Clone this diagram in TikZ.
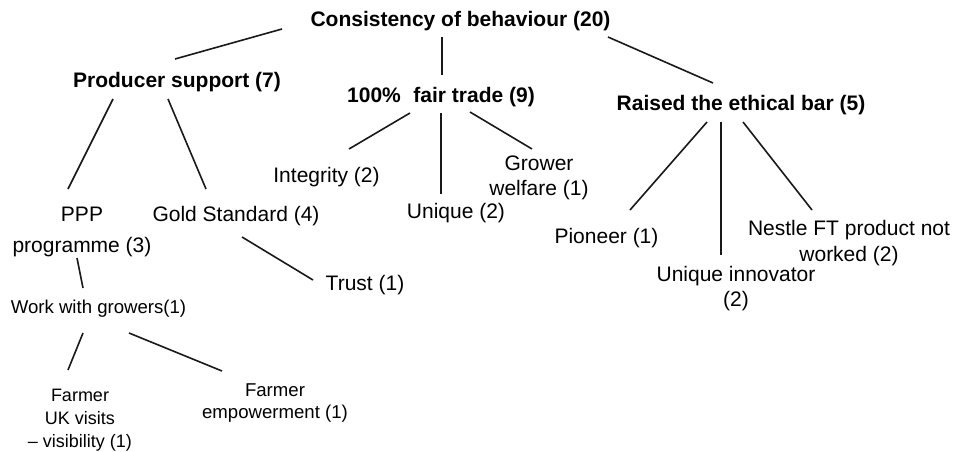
\documentclass[tikz,border=0pt]{standalone}
\usepackage{fontspec}
\setmainfont{Liberation Sans}
\begin{document}
\begin{tikzpicture}[x=1pt,y=-1pt,
  lab/.style={anchor=base, inner sep=0pt, text=black, font=\fontsize{21}{26}\selectfont},
  bl/.style={lab, font=\bfseries\fontsize{21}{26}\selectfont},
  conn/.style={draw=black!90, line width=1.6pt}]
\useasboundingbox[fill=white] (0,0) rectangle (955,452);
% nodes
\node[bl] (cons) at (460.5,27) {Consistency of behaviour (20)};
\node[bl] (prod) at (177,87) {Producer support (7)};
\node[bl] (fair) at (441,102) {100\%\hspace{0.6em}fair trade (9)};
\node[bl] (raised) at (741,110) {Raised the ethical bar (5)};
\node[lab] (integ) at (326.5,182) {Integrity (2)};
\node[lab, font=\fontsize{21}{31}\selectfont] (ppp) at (82,221) {\begin{tabular}[t]{@{}c@{}}PPP\\programme (3)\end{tabular}};
\node[lab] (gold) at (236,221) {Gold Standard (4)};
\node[lab] (uniq) at (456,218) {Unique (2)};
\node[lab, font=\fontsize{21}{25}\selectfont] (grow) at (539,170) {\begin{tabular}[t]{@{}c@{}}Grower\\welfare (1)\end{tabular}};
\node[lab] (pion) at (606.5,243) {Pioneer (1)};
\node[lab, font=\fontsize{21}{25.5}\selectfont] (innov) at (736,281) {\begin{tabular}[t]{@{}c@{}}Unique innovator\\(2)\end{tabular}};
\node[lab, font=\fontsize{21}{26.5}\selectfont] (nestle) at (849,235) {\begin{tabular}[t]{@{}c@{}}Nestle FT product not\\worked (2)\end{tabular}};
\node[lab] (trust) at (365,290) {Trust (1)};
\node[lab, font=\fontsize{18.6}{22}\selectfont] (work) at (98.5,313) {Work with growers(1)};
\node[lab, font=\fontsize{18}{23}\selectfont] (fuk) at (80,401) {\begin{tabular}[t]{@{}c@{}}Farmer\\UK visits\\– visibility (1)\end{tabular}};
\node[lab, font=\fontsize{18.6}{22}\selectfont] (femp) at (275,396) {\begin{tabular}[t]{@{}c@{}}Farmer\\empowerment (1)\end{tabular}};
% connectors
\draw[conn] ([shift={(-178.5,2)}]cons.base) -- ([shift={(-2,-28)}]prod.base);
\draw[conn] ([shift={(-18.5,10)}]cons.base) -- ([shift={(1,-27)}]fair.base);
\draw[conn] ([shift={(147.5,10)}]cons.base) -- ([shift={(-28,-27)}]raised.base);
\draw[conn] ([shift={(-64,12)}]prod.base) -- ([shift={(-14,-32)}]ppp.base);
\draw[conn] ([shift={(-9,12)}]prod.base) -- ([shift={(-30,-32)}]gold.base);
\draw[conn] ([shift={(-31,11)}]fair.base) -- ([shift={(22.5,-33)}]integ.base);
\draw[conn] ([shift={(0,11)}]fair.base) -- ([shift={(-15,-24)}]uniq.base);
\draw[conn] ([shift={(29,10)}]fair.base) -- ([shift={(-7,-21)}]grow.base);
\draw[conn] ([shift={(-34,12)}]raised.base) -- ([shift={(23.5,-33)}]pion.base);
\draw[conn] ([shift={(-20,12)}]raised.base) -- ([shift={(-15,-26)}]innov.base);
\draw[conn] ([shift={(2,12)}]raised.base) -- ([shift={(-37,-25)}]nestle.base);
\draw[conn] ([shift={(6,16)}]gold.base) -- ([shift={(-52,-10)}]trust.base);
\draw[conn] ([shift={(-5,37)}]ppp.base) -- ([shift={(-15.5,-25)}]work.base);
\draw[conn] ([shift={(-15.5,20)}]work.base) -- ([shift={(-12,-31)}]fuk.base);
\draw[conn] ([shift={(30.5,20)}]work.base) -- ([shift={(-53,-25)}]femp.base);
\end{tikzpicture}
\end{document}
